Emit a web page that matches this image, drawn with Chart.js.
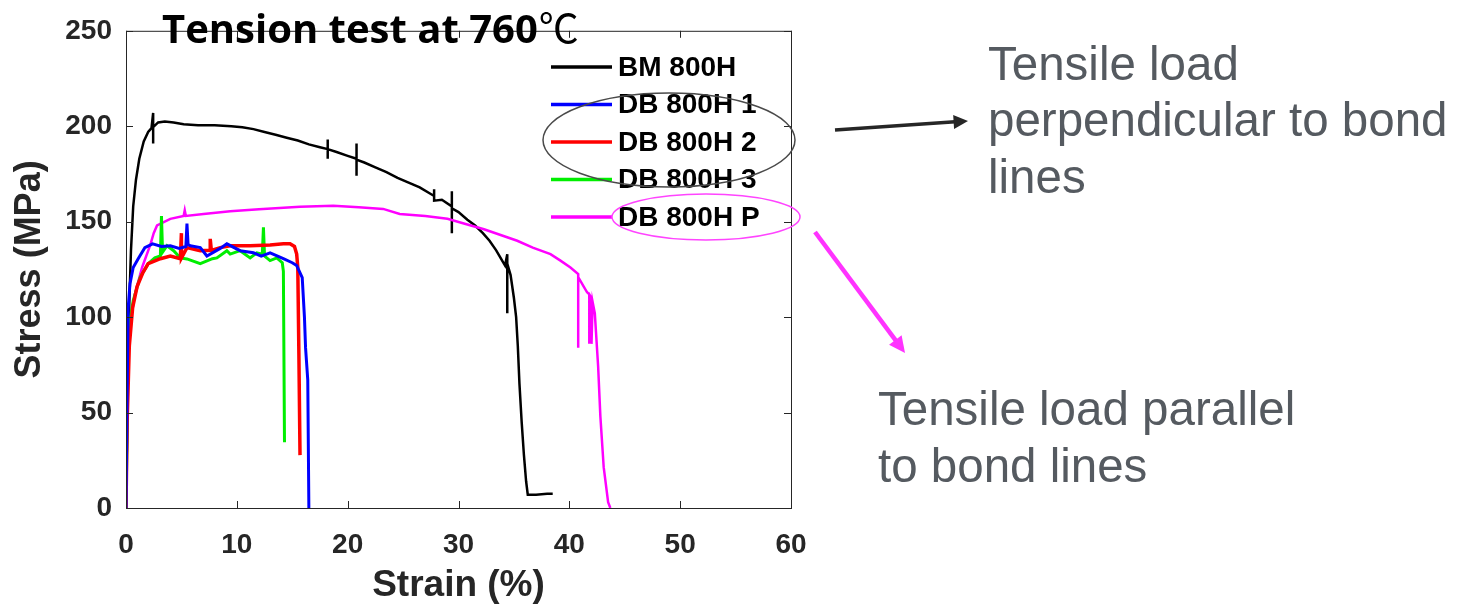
<!DOCTYPE html>
<html>
<head>
<meta charset="utf-8">
<script src="https://cdn.jsdelivr.net/npm/chart.js@4"></script>
<style>
  html, body { margin: 0; padding: 0; background: #fff; }
  #wrap { width: 1473px; height: 608px; position: relative; }
</style>
</head>
<body>
<div id="wrap"><canvas id="tensionChart"></canvas></div>
<script>
// Strain (%) / stress (MPa)
const bmStrain = [0, 0.1, 0.2, 0.3, 0.45, 0.65, 0.9, 1.2, 1.6, 2.0, 2.3, 2.45, 2.45, 2.45, 2.45, 2.9, 3.5, 4.3, 5.2, 6.5, 8.0, 9.5, 10.5, 11.5, 12.5, 13.5, 14.5, 15.5, 16.5, 17.5, 18.2, 18.2, 18.2, 18.2, 19.0, 20.0, 20.8, 20.8, 20.8, 20.8, 21.5, 22.5, 23.5, 24.5, 25.5, 26.5, 27.5, 27.8, 27.8, 27.8, 28.5, 29.4, 29.4, 29.4, 29.4, 30.0, 30.8, 31.5, 32.2, 32.8, 33.4, 33.9, 34.2, 34.4, 34.4, 34.4, 34.7, 35.0, 35.2, 35.35, 35.5, 35.7, 35.9, 36.1, 36.25, 37.0, 38.0, 38.5];
const bmStress = [0, 40, 80, 108, 135, 158, 172, 183, 192, 197, 199, 207, 191, 199, 199.5, 202, 202.5, 202, 201, 200.5, 200.5, 200, 199.5, 198.5, 197, 195.5, 194, 192.5, 190.5, 189, 188, 193, 183, 188, 186.5, 184.5, 183, 191, 174, 182.5, 181, 178.5, 176, 173, 170.5, 168, 164.5, 163.5, 167, 161, 161.5, 158, 166, 144, 157, 155, 151, 148, 144, 140, 135, 130, 127, 133, 102, 128, 122, 110, 100, 85, 65, 45, 28, 14, 7, 7, 7.5, 7.5];

const db1Strain = [0, 0.1, 0.2, 0.36, 0.65, 1.1, 1.7, 2.4, 3.2, 4.0, 4.8, 5.4, 5.5, 5.6, 5.8, 6.7, 7.3, 8.5, 9.1, 10.3, 11.5, 12.2, 13.0, 14.2, 15.0, 15.4, 15.9, 16.1, 16.2, 16.4, 16.5];
const db1Stress = [0, 60, 105, 117.5, 126, 130.6, 136.4, 138.4, 137, 137.4, 136, 137, 149, 138, 137.4, 136.4, 132, 136, 138.4, 134.8, 133.7, 132, 133.7, 130.6, 128.5, 127, 120.7, 100, 84, 67, 0];

const db2Strain = [0, 0.1, 0.3, 0.6, 1.0, 1.5, 2.0, 3.1, 4.0, 4.9, 5.0, 5.0, 5.5, 6.7, 7.6, 7.6, 7.7, 8.5, 9.4, 11.2, 13.0, 14.2, 14.8, 15.2, 15.4, 15.5, 15.6, 15.7];
const db2Stress = [0, 45, 85, 105, 116, 123, 128, 130.6, 132, 130.6, 144, 131, 136.4, 134.8, 135, 141, 135, 136.4, 137.4, 137.4, 137.8, 138.4, 138.4, 137, 133, 126, 80, 27.7];

const db3Strain = [0, 0.1, 0.2, 0.4, 0.65, 1.26, 2.0, 2.6, 3.1, 3.2, 3.3, 3.7, 4.3, 4.9, 5.5, 6.7, 7.8, 8.2, 9.1, 9.4, 10.3, 11.2, 11.8, 12.3, 12.4, 12.5, 13.0, 13.6, 14.1, 14.2, 14.3];
const db3Stress = [0, 40, 88, 100, 108.7, 120.7, 128, 131, 132, 153, 134, 137.4, 134.8, 131, 130.5, 128, 130.6, 131, 134.8, 133, 134.8, 131, 133.7, 133, 147, 132, 129.6, 131, 128.5, 124, 34.5];

const dbpStrain = [0, 0.05, 0.1, 0.36, 0.8, 1.45, 2.2, 2.5, 2.8, 4.0, 5.2, 5.3, 5.4, 7.0, 9.4, 12.0, 15.7, 18.7, 21.0, 23.2, 24.7, 27.0, 29.0, 30.8, 32.3, 33.8, 35.3, 36.7, 38.3, 39.2, 40.1, 40.8, 40.8, 40.8, 41.3, 41.6, 41.8, 41.8, 41.9, 42.0, 42.0, 42.1, 42.3, 42.6, 42.8, 43.1, 43.5, 43.7];
const dbpStress = [0, 30, 74, 95, 112, 126, 138, 144, 148, 151.5, 153, 156, 153, 154, 155.5, 156.5, 157.8, 158.3, 157.5, 156.7, 154, 153, 151.5, 148.5, 146, 143, 140, 136.4, 133, 129.6, 126, 122.6, 84, 121, 116, 113, 112, 86, 111, 110, 86, 108, 102, 74, 48, 21.4, 3, 0];

const seriesLabels = ['BM 800H', 'DB 800H 1', 'DB 800H 2', 'DB 800H 3', 'DB 800H P'];
const seriesColors = ['#000000', '#0000ff', '#ff0000', '#00ee00', '#ff00ff'];
const seriesWidths = [2.5, 3, 3.5, 3, 2.5];
const xTicks = [0, 10, 20, 30, 40, 50, 60];
const yTicks = [0, 50, 100, 150, 200, 250];

function toPoints(xs, ys) {
    return xs.map((x, i) => ({ x: x, y: ys[i] }));
}

const seriesData = [
    toPoints(bmStrain, bmStress),
    toPoints(db1Strain, db1Stress),
    toPoints(db2Strain, db2Stress),
    toPoints(db3Strain, db3Stress),
    toPoints(dbpStrain, dbpStress)
];

const AXIS_COLOR = '#262626';
const ARIAL = '"Liberation Sans", Arial, sans-serif';

// frame + inward ticks on all four sides (MATLAB look)
const frameTicks = {
    id: 'frameTicks',
    afterDatasetsDraw(chart) {
        const { ctx, chartArea: a, scales: { x, y } } = chart;
        const len = 7;
        ctx.save();
        ctx.strokeStyle = AXIS_COLOR;
        ctx.lineWidth = 1;
        ctx.strokeRect(a.left + 0.5, a.top + 0.5, a.right - a.left, a.bottom - a.top);
        ctx.beginPath();
        x.ticks.forEach(t => {
            const px = Math.round(x.getPixelForValue(t.value)) + 0.5;
            ctx.moveTo(px, a.bottom); ctx.lineTo(px, a.bottom - len);
            ctx.moveTo(px, a.top); ctx.lineTo(px, a.top + len);
        });
        y.ticks.forEach(t => {
            const py = Math.round(y.getPixelForValue(t.value)) + 0.5;
            ctx.moveTo(a.left, py); ctx.lineTo(a.left + len, py);
            ctx.moveTo(a.right, py); ctx.lineTo(a.right - len, py);
        });
        ctx.stroke();
        ctx.restore();
    }
};

// legend inside the axes, top right
const insideLegend = {
    id: 'insideLegend',
    afterDatasetsDraw(chart) {
        const ctx = chart.ctx;
        ctx.save();
        ctx.font = 'bold 28px ' + ARIAL;
        ctx.textBaseline = 'middle';
        ctx.fillStyle = '#000';
        chart.data.datasets.forEach((ds, i) => {
            const yy = 67 + i * 37.5;
            ctx.strokeStyle = ds.borderColor;
            ctx.lineWidth = 3.5;
            ctx.beginPath();
            ctx.moveTo(551, yy);
            ctx.lineTo(612, yy);
            ctx.stroke();
            ctx.fillText(ds.label, 618, yy + 1);
        });
        ctx.restore();
    }
};

function arrow(ctx, x1, y1, x2, y2, color, width, head) {
    const ang = Math.atan2(y2 - y1, x2 - x1);
    ctx.strokeStyle = color;
    ctx.fillStyle = color;
    ctx.lineWidth = width;
    ctx.beginPath();
    ctx.moveTo(x1, y1);
    ctx.lineTo(x2 - head * 0.8 * Math.cos(ang), y2 - head * 0.8 * Math.sin(ang));
    ctx.stroke();
    ctx.beginPath();
    ctx.moveTo(x2, y2);
    ctx.lineTo(x2 - head * Math.cos(ang - 0.45), y2 - head * Math.sin(ang - 0.45));
    ctx.lineTo(x2 - head * Math.cos(ang + 0.45), y2 - head * Math.sin(ang + 0.45));
    ctx.closePath();
    ctx.fill();
}

// title, ellipses, arrows and the two notes
const annotations = {
    id: 'annotations',
    afterDraw(chart) {
        const ctx = chart.ctx;
        ctx.save();

        ctx.fillStyle = '#000';
        ctx.textBaseline = 'alphabetic';
        ctx.font = 'bold 40px "Open Sans", Lato, sans-serif';
        const t1 = 'Tension test at 760';
        ctx.fillText(t1, 162, 43);
        const w1 = ctx.measureText(t1).width;
        ctx.font = '40px "Noto Sans CJK SC", sans-serif';
        ctx.fillText('℃', 162 + w1 + 1, 43);

        ctx.lineWidth = 1.5;
        ctx.strokeStyle = '#4a4a4a';
        ctx.beginPath();
        ctx.ellipse(669, 140, 126, 47, 0, 0, Math.PI * 2);
        ctx.stroke();
        ctx.strokeStyle = '#ff44ff';
        ctx.beginPath();
        ctx.ellipse(706, 217, 94, 23, 0, 0, Math.PI * 2);
        ctx.stroke();

        arrow(ctx, 835, 130, 968, 121, '#262626', 3.5, 16);
        arrow(ctx, 815, 232, 905, 353, '#ff33ff', 4.5, 18);

        ctx.fillStyle = '#555a60';
        ctx.font = '47.5px ' + ARIAL;
        ctx.fillText('Tensile load', 988, 80);
        ctx.fillText('perpendicular to bond', 988, 136);
        ctx.fillText('lines', 988, 193);
        ctx.fillText('Tensile load parallel', 878, 425);
        ctx.fillText('to bond lines', 878, 482);
        ctx.restore();
    }
};

const ctx = document.getElementById('tensionChart').getContext('2d');
const tensionChart = new Chart(ctx, {
    type: 'line',
    data: {
        datasets: seriesLabels.map((label, i) => ({
            label: label,
            data: seriesData[i],
            borderColor: seriesColors[i],
            backgroundColor: seriesColors[i],
            borderWidth: seriesWidths[i],
            pointRadius: 0,
            tension: 0,
            fill: false,
            order: i === 0 ? 5 : i
        }))
    },
    options: {
        responsive: true,
        maintainAspectRatio: false,
        animation: false,
        events: [],
        layout: { padding: { top: 13.2, right: 682, left: 0, bottom: 0 } },
        plugins: {
            legend: { display: false },
            tooltip: { enabled: false }
        },
        scales: {
            x: {
                type: 'linear',
                min: 0,
                max: 60,
                afterFit(scale) { scale.height = 100; },
                afterBuildTicks(scale) { scale.ticks = xTicks.map(v => ({ value: v })); },
                grid: { display: false, drawTicks: false },
                border: { display: false },
                ticks: {
                    padding: 20,
                    color: AXIS_COLOR,
                    font: { family: ARIAL, size: 28, weight: 'bold' }
                },
                title: {
                    display: true,
                    text: 'Strain (%)',
                    color: AXIS_COLOR,
                    padding: { top: 0, bottom: 0 },
                    font: { family: ARIAL, size: 37, weight: 'bold' }
                }
            },
            y: {
                min: 0,
                max: 250,
                afterFit(scale) { scale.width = 126; },
                afterBuildTicks(scale) { scale.ticks = yTicks.map(v => ({ value: v })); },
                grid: { display: false, drawTicks: false },
                border: { display: false },
                ticks: {
                    padding: 14,
                    color: AXIS_COLOR,
                    font: { family: ARIAL, size: 28, weight: 'bold' }
                },
                title: {
                    display: true,
                    text: 'Stress (MPa)',
                    color: AXIS_COLOR,
                    padding: { top: 8, bottom: 0 },
                    font: { family: ARIAL, size: 36, weight: 'bold' }
                }
            }
        }
    },
    plugins: [frameTicks, insideLegend, annotations]
});
</script>
</body>
</html>
